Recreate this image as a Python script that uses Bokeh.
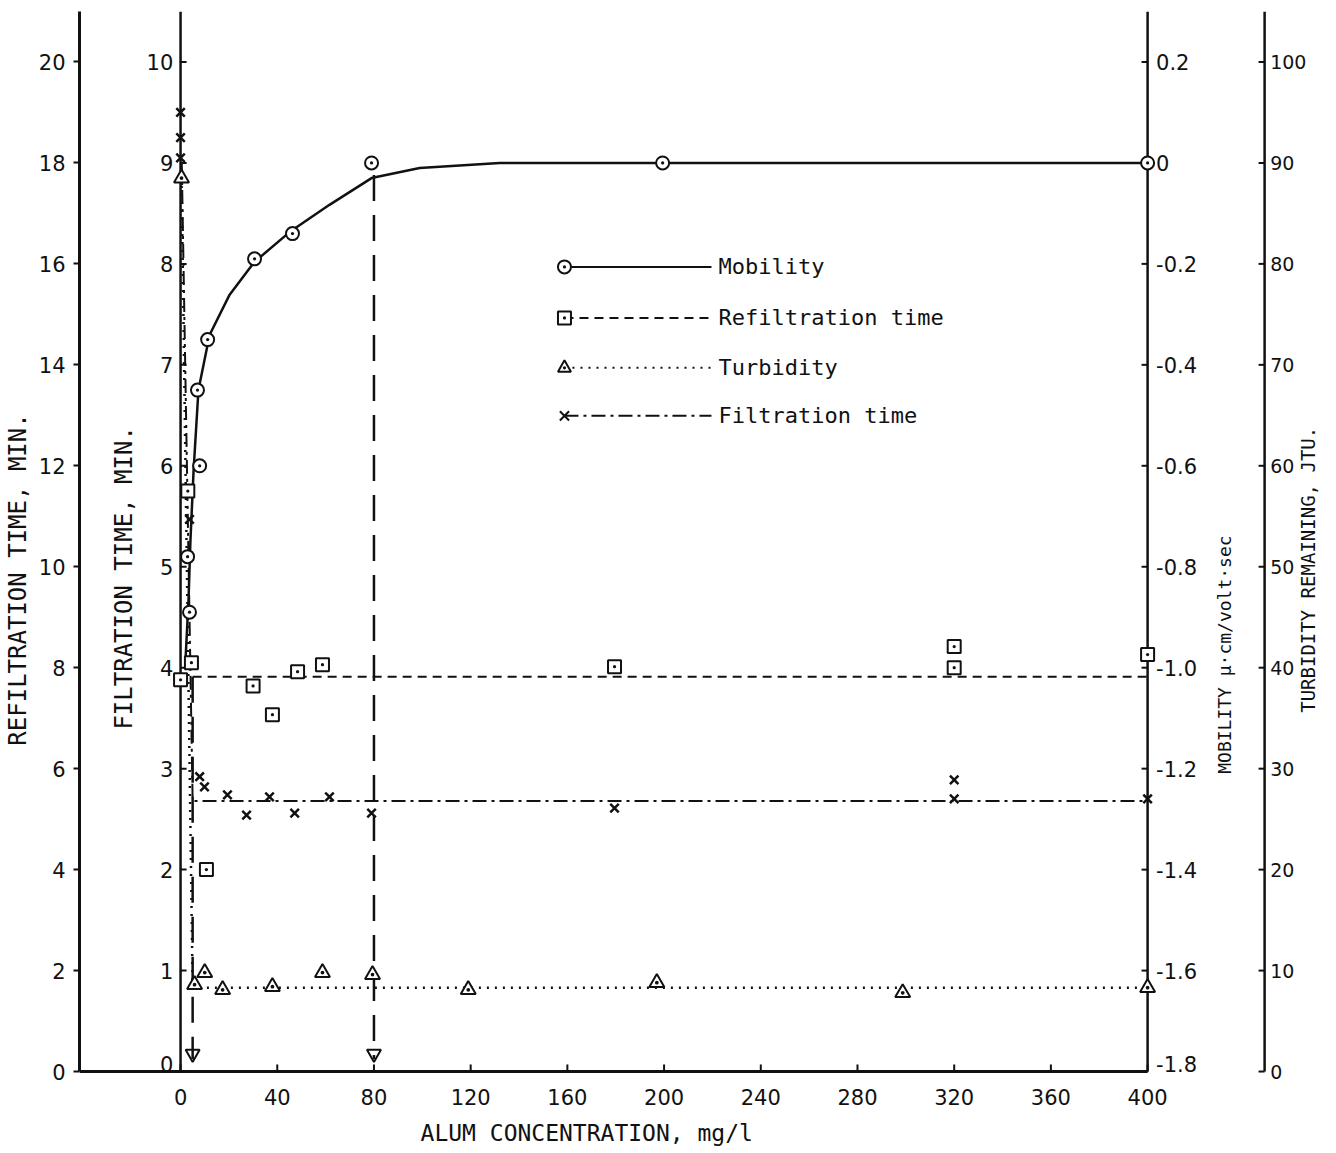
import math
from bokeh.plotting import figure
from bokeh.models import Range1d, FixedTicker
from bokeh.core.properties import value
from bokeh.embed import file_html
from bokeh.resources import INLINE

# ---------------- data ----------------
# Mobility (circles) – alum mg/l vs mobility
alum_mob = [3.7, 2.9, 7.9, 7.0, 11.2, 30.6, 46.3, 79.0, 199.4, 400.0]
mobility = [-0.89, -0.78, -0.60, -0.45, -0.35, -0.19, -0.14, 0.0, 0.0, 0.0]
# hand-drawn mobility curve, read along its path
mob_curve_x = [2.1, 3.3, 4.1, 5.4, 7.4, 12.0, 20.3, 30.6, 45.1, 61.6, 79.0, 98.9, 132.0, 400.0]
mob_curve_y = [-0.98, -0.865, -0.747, -0.608, -0.45, -0.341, -0.261, -0.196, -0.137, -0.083, -0.03, -0.01, 0.0, 0.0]

# Refiltration time (squares), minutes
alum_ref = [0.0, 4.5, 3.0, 10.7, 30.0, 38.0, 48.4, 58.7, 179.5, 320.0, 320.0, 400.0]
refiltration = [7.76, 8.1, 11.5, 4.0, 7.64, 7.07, 7.92, 8.06, 8.02, 8.42, 8.0, 8.26]
ref_line_x = [5.0, 400.0]
ref_line_y = [7.82, 7.82]

# Turbidity remaining (triangles), JTU
alum_turb = [0.4, 5.8, 10.0, 17.4, 38.0, 58.7, 79.4, 119.0, 197.0, 298.7, 400.0]
turbidity = [88.5, 8.6, 9.8, 8.1, 8.4, 9.8, 9.6, 8.1, 8.8, 7.8, 8.3]
turb_line_x = [0.4, 5.0, 400.0]
turb_line_y = [88.5, 8.3, 8.3]

# Filtration time (crosses), minutes
alum_filt = [0.0, 0.0, 0.0, 3.7, 7.9, 9.9, 19.4, 27.3, 36.8, 47.2, 61.6, 79.0, 179.5, 320.0, 320.0, 400.0]
filtration = [9.5, 9.25, 9.05, 5.47, 2.92, 2.82, 2.74, 2.54, 2.72, 2.56, 2.72, 2.56, 2.61, 2.89, 2.7, 2.7]
filt_line_x = [0.5, 5.0, 400.0]
filt_line_y = [9.0, 2.68, 2.68]

# optimum-dose drop lines (alum mg/l, top in refiltration units)
dose_x = [5.0, 80.0]
dose_top = [7.82, 17.76]

# ticks
x_ticks = [0, 40, 80, 120, 160, 200, 240, 280, 320, 360, 400]
x_tick_labels = ["0", "40", "80", "120", "160", "200", "240", "280", "320", "360", "400"]
ref_ticks = [0, 2, 4, 6, 8, 10, 12, 14, 16, 18, 20]
filt_ticks = [0, 1, 2, 3, 4, 5, 6, 7, 8, 9, 10]
mob_ticks = [-1.8, -1.6, -1.4, -1.2, -1.0, -0.8, -0.6, -0.4, -0.2, 0, 0.2]
mob_tick_labels = ["-1.8", "-1.6", "-1.4", "-1.2", "-1.0", "-0.8", "-0.6", "-0.4", "-0.2", "0", "0.2"]
turb_ticks = [0, 10, 20, 30, 40, 50, 60, 70, 80, 90, 100]

legend_labels = ["Mobility", "Refiltration time", "Turbidity", "Filtration time"]

# ---------------- layout / style ----------------
INK = "#111111"
TFONT = "DejaVu Sans"
LFONT = "DejaVu Sans Mono"
TICK_FS = "21px"
X_LO, X_HI = -41.8, 474.0     # frame spans past 400 to hold the two right-hand scales
Y_LO, Y_HI = -1.505, 21       # frame extends below the alum axis to hold its labels
MOB_AXIS_X = x_ticks[-1]      # mobility scale drawn at alum = 400
TURB_AXIS_X = 448.4           # turbidity scale drawn further right
TICK_LEN = 2.5                # tick length in alum units (~6 px)
XTICK_LEN = 0.14              # tick length in refiltration units (~7 px)

# secondary scales are linear in the refiltration scale
def filt_of(r): return r / 2.0
def mob_of(r): return -1.8 + r * 0.1
def turb_of(r): return r * 5.0

p = figure(width=1326, height=1147, output_backend="svg", toolbar_location=None,
           x_range=Range1d(X_LO, X_HI), y_range=Range1d(Y_LO, Y_HI),
           min_border_left=79, min_border_right=0, min_border_top=11, min_border_bottom=0)
p.outline_line_color = None
p.xgrid.visible = False
p.ygrid.visible = False
p.xaxis.visible = False
p.background_fill_color = "white"
p.border_fill_color = "white"

p.extra_y_ranges = {"filt": Range1d(filt_of(Y_LO), filt_of(Y_HI)),
                    "mob": Range1d(mob_of(Y_LO), mob_of(Y_HI)),
                    "turb": Range1d(turb_of(Y_LO), turb_of(Y_HI))}

# left axis (refiltration), its line bounded to 0..21
ya = p.yaxis[0]
ya.ticker = FixedTicker(ticks=ref_ticks)
ya.bounds = (0, Y_HI)
ya.axis_label = "REFILTRATION TIME, MIN."
ya.axis_line_width = 3
ya.axis_line_color = INK
ya.major_tick_line_color = INK
ya.major_tick_line_width = 2
ya.major_tick_in = 0
ya.major_tick_out = 6
ya.minor_tick_line_color = None
ya.major_label_text_font = TFONT
ya.major_label_text_font_size = TICK_FS
ya.major_label_text_color = INK
ya.axis_label_text_font = LFONT
ya.axis_label_text_font_size = "24px"
ya.axis_label_text_font_style = "normal"
ya.axis_label_text_color = INK
ya.major_label_standoff = 8
ya.axis_label_standoff = 4


def text_kw(size, font=TFONT):
    return dict(text_font=value(font), text_font_size=size, text_color=INK)


# ---- alum axis along refiltration = 0
p.segment(x0=[X_LO], x1=[MOB_AXIS_X], y0=[0], y1=[0], line_color=INK, line_width=3)
p.segment(x0=x_ticks, x1=x_ticks, y0=[0] * len(x_ticks), y1=[XTICK_LEN] * len(x_ticks),
          line_color=INK, line_width=2)
p.text(x=x_ticks, y=[-0.5] * len(x_ticks), text=x_tick_labels,
       text_align="center", text_baseline="middle", **text_kw(TICK_FS))
p.text(x=[168.0], y=[-1.21], text=["ALUM CONCENTRATION, mg/l"],
       text_align="center", text_baseline="middle", **text_kw("23px", LFONT))

# ---- filtration scale along alum = 0
p.segment(x0=[0], x1=[0], y0=[0], y1=[Y_HI], line_color=INK, line_width=2.5)
p.segment(x0=[0] * len(filt_ticks), x1=[TICK_LEN] * len(filt_ticks), y0=filt_ticks, y1=filt_ticks,
          y_range_name="filt", line_color=INK, line_width=2)
p.text(x=[-3.0] * (len(filt_ticks) - 1), y=filt_ticks[1:], text=[str(t) for t in filt_ticks[1:]],
       y_range_name="filt", text_align="right", text_baseline="middle", **text_kw(TICK_FS))
p.text(x=[-3.0], y=filt_ticks[:1], text=[str(filt_ticks[0])],
       y_range_name="filt", text_align="right", text_baseline="bottom", **text_kw(TICK_FS))
p.text(x=[-23.2], y=[9.78], text=["FILTRATION TIME, MIN."], angle=math.pi / 2,
       text_align="center", text_baseline="middle", **text_kw("24px", LFONT))

# ---- mobility scale along alum = 400
p.segment(x0=[MOB_AXIS_X], x1=[MOB_AXIS_X], y0=[0], y1=[Y_HI], line_color=INK, line_width=2.5)
p.segment(x0=[MOB_AXIS_X - TICK_LEN] * len(mob_ticks), x1=[MOB_AXIS_X] * len(mob_ticks),
          y0=mob_ticks, y1=mob_ticks, y_range_name="mob", line_color=INK, line_width=2)
p.text(x=[MOB_AXIS_X + 3.5] * (len(mob_ticks) - 1), y=mob_ticks[1:], text=mob_tick_labels[1:],
       y_range_name="mob", text_align="left", text_baseline="middle", **text_kw(TICK_FS))
p.text(x=[MOB_AXIS_X + 3.5], y=mob_ticks[:1], text=mob_tick_labels[:1],
       y_range_name="mob", text_align="left", text_baseline="bottom", **text_kw(TICK_FS))
p.text(x=[431.9], y=[8.26], text=["MOBILITY μ·cm/volt·sec"], angle=math.pi / 2,
       text_align="center", text_baseline="middle", **text_kw("18px", LFONT))

# ---- turbidity scale
p.segment(x0=[TURB_AXIS_X], x1=[TURB_AXIS_X], y0=[0], y1=[Y_HI], line_color=INK, line_width=2.5)
p.segment(x0=[TURB_AXIS_X - TICK_LEN] * len(turb_ticks), x1=[TURB_AXIS_X] * len(turb_ticks),
          y0=turb_ticks, y1=turb_ticks, y_range_name="turb", line_color=INK, line_width=2)
p.text(x=[TURB_AXIS_X + 2.3] * len(turb_ticks), y=turb_ticks, text=[str(t) for t in turb_ticks],
       y_range_name="turb", text_align="left", text_baseline="middle", **text_kw("19px"))
p.text(x=[466.2], y=[9.94], text=["TURBIDITY REMAINING, JTU."], angle=math.pi / 2,
       text_align="center", text_baseline="middle", **text_kw("19px", LFONT))

# ---- dose drop lines with arrow heads
p.segment(x0=dose_x, x1=dose_x, y0=dose_top, y1=[0.25] * len(dose_x),
          line_color=INK, line_width=2.5, line_dash="26 14")
p.scatter(dose_x, [0.35] * len(dose_x), marker="inverted_triangle", size=14,
          fill_color=None, line_color=INK, line_width=2)

# ---- series lines
DASH_REF = "9 6"
DASH_TURB = "2 6"
DASH_FILT = "14 5 3 5"
p.line(mob_curve_x, mob_curve_y, y_range_name="mob", line_color=INK, line_width=2.5)
p.line(ref_line_x, ref_line_y, line_color=INK, line_width=2, line_dash=DASH_REF)
p.line(turb_line_x, turb_line_y, y_range_name="turb", line_color=INK, line_width=2.5, line_dash=DASH_TURB)
p.line(filt_line_x, filt_line_y, y_range_name="filt", line_color=INK, line_width=2, line_dash=DASH_FILT)

# ---- series markers
p.scatter(alum_mob, mobility, y_range_name="mob", marker="circle_dot", size=13,
          fill_color="white", line_color=INK, line_width=2)
p.scatter(alum_ref, refiltration, marker="square_dot", size=13,
          fill_color="white", line_color=INK, line_width=2)
p.scatter(alum_turb, turbidity, y_range_name="turb", marker="triangle_dot", size=15,
          fill_color="white", line_color=INK, line_width=2)
p.scatter(alum_filt, filtration, y_range_name="filt", marker="x", size=12,
          line_color=INK, line_width=2.5)

# ---- legend (drawn inside plot)
leg_x0, leg_x1, leg_tx = 158.8, 219.6, 222.5
leg_y = [15.94, 14.93, 13.94, 12.99]
leg_dash = ["solid", DASH_REF, DASH_TURB, DASH_FILT]
leg_marker = ["circle_dot", "square_dot", "triangle_dot", "x"]
for yy, dash, mk in zip(leg_y, leg_dash, leg_marker):
    p.line([leg_x0, leg_x1], [yy, yy], line_color=INK, line_width=2, line_dash=dash)
    p.scatter([leg_x0], [yy], marker=mk, size=13, fill_color="white", line_color=INK, line_width=2)
p.text(x=[leg_tx] * len(legend_labels), y=leg_y, text=legend_labels,
       text_align="left", text_baseline="middle", **text_kw("22px", LFONT))

open("out.html", "w").write(file_html(p, INLINE))
